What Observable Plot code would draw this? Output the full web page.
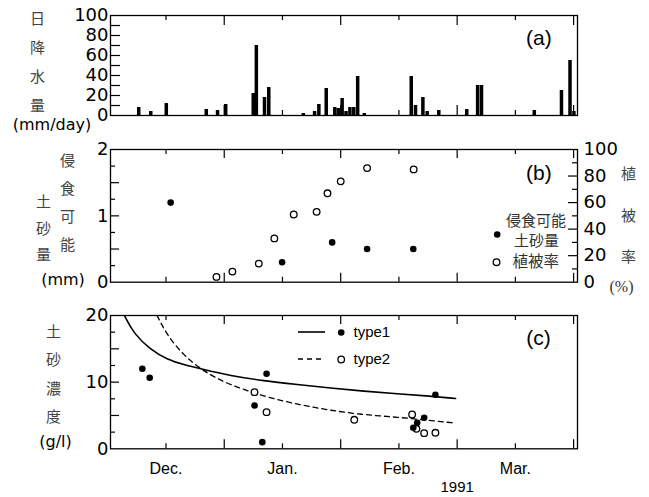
<!DOCTYPE html>
<html><head><meta charset="utf-8">
<script src="https://cdn.jsdelivr.net/npm/d3@7"></script>
<script src="https://cdn.jsdelivr.net/npm/@observablehq/plot@0.6"></script>
<style>body{margin:0;background:#fff} #chart{width:649px;height:497px} #chart svg{display:block}</style>
</head><body><div id="chart"></div>
<script>
// ---------------- data (x = days from Dec. 1, chart convention: 15-day ticks) ----------------
const rainDay = [-6.9, -3.8, 0.2, 10.5, 13.4, 15.5, 22.6, 23.4, 25.5, 26.6, 35.5, 38.4, 39.5, 41.4, 43.6, 44.5, 45.5, 46.5, 47.5, 48.5, 49.5, 51.2, 63.3, 64.4, 66.3, 67.4, 70.4, 77.6, 80.4, 81.4, 95.0, 102.0, 104.2, 105.2];
const rainMm  = [8, 4, 12, 6, 5, 11, 22, 70, 18, 28, 2, 4, 11, 27, 8, 7, 17, 4, 8, 8, 39, 2, 39, 10, 18, 4, 5, 6, 30, 30, 5, 25, 55, 4];

const erodDay = [1.2, 29.9, 42.8, 51.8, 63.7];
const erodMm  = [1.2, 0.3, 0.6, 0.5, 0.5];
const vegDay  = [13.0, 17.1, 23.9, 27.9, 32.9, 38.8, 41.6, 45.0, 51.8, 63.8];
const vegPct  = [4, 8, 14, 33, 51, 53, 67, 76, 86, 85];

const type1Day  = [-6.1, -4.2, 22.8, 24.8, 25.9, 63.7, 64.7, 66.5, 69.4];
const type1Conc = [12.0, 10.65, 6.5, 1.0, 11.25, 3.15, 3.9, 4.65, 8.1];
const type2Day  = [22.8, 25.9, 48.5, 63.4, 64.5, 66.5, 69.4];
const type2Conc = [8.5, 5.5, 4.35, 5.15, 3.0, 2.35, 2.4];

const fit1Day  = [-10.7, -8.3, -4.0, 0.3, 4.6, 8.9, 16.6, 25.2, 33.8, 42.4, 51.0, 59.6, 68.1, 74.6];
const fit1Conc = [20, 17.25, 14.9, 13.4, 12.6, 12.0, 10.95, 10.2, 9.65, 9.1, 8.65, 8.25, 7.9, 7.55];
const fit2Day  = [-2.3, 0.3, 4.6, 8.9, 13.2, 17.5, 26.1, 34.6, 42.4, 51.0, 59.6, 68.1, 74.6];
const fit2Conc = [20, 17.0, 14.0, 12.0, 10.5, 9.4, 7.7, 6.6, 5.75, 5.1, 4.75, 4.25, 3.85];

const monthTicks  = [0, 30, 60, 90];
const monthLabels = ["Dec.", "Jan.", "Feb.", "Mar."];
const yearTick = 75, yearLabel = "1991";
const rainTicks = [0, 20, 40, 60, 80, 100];
const sedTicks  = [0, 1, 2];
const vegTicks  = [0, 20, 40, 60, 80, 100];
const concTicks = [0, 10, 20];

// ---------------- layout ----------------
const W = 649, ML = 110, MR = 72;
const plotW = W - ML - MR;
const xDomain = [-14.3, 106.0];
const NUM = "DejaVu Sans", LAT = "Liberation Sans", CJK = "Noto Sans CJK JP";

const rain = rainDay.map((d, i) => ({day: d, mm: rainMm[i]}));
const erod = erodDay.map((d, i) => ({day: d, v: erodMm[i]}));
const veg  = vegDay.map((d, i) => ({day: d, v: vegPct[i]}));
const t1 = type1Day.map((d, i) => ({day: d, v: type1Conc[i]}));
const t2 = type2Day.map((d, i) => ({day: d, v: type2Conc[i]}));
const f1 = fit1Day.map((d, i) => ({day: d, v: fit1Conc[i]}));
const f2 = fit2Day.map((d, i) => ({day: d, v: fit2Conc[i]}));

const tk = {stroke: "black", strokeWidth: 1.2};
function xFrameTicks(plotH, longLen) {
  const shortT = [0, 30, 60, 90], longT = [15, 45, 75, 105];
  return [
    Plot.tickX(shortT, {x: d => d, insetBottom: plotH - 5, ...tk}),
    Plot.tickX(longT, {x: d => d, insetBottom: plotH - longLen, ...tk}),
    Plot.tickX(shortT, {x: d => d, insetTop: plotH - 5, ...tk}),
    Plot.tickX(longT, {x: d => d, insetTop: plotH - longLen, ...tk})
  ];
}
function yLeftTicks(vals, len) { return Plot.tickY(vals, {y: d => d, insetRight: plotW - len, ...tk}); }
function yRightTicks(vals, len) { return Plot.tickY(vals, {y: d => d, insetLeft: plotW - len, ...tk}); }
function label(txt, o) {
  return Plot.text([txt], {text: d => d, textAnchor: "middle", lineAnchor: "middle", fill: "black", ...o});
}
const frame = Plot.frame({stroke: "black", strokeWidth: 1.3});
const yAxisL = (ticks) => Plot.axisY(ticks, {anchor: "left", tickSize: 0, tickPadding: 2, tickFormat: d => String(d), fontSize: 18, fontFamily: NUM, fill: "black", label: null});

// ---------------- (a) rainfall ----------------
const pa = Plot.plot({
  width: W, height: 135, marginLeft: ML, marginRight: MR, marginTop: 15, marginBottom: 20,
  x: {domain: xDomain, axis: null},
  y: {domain: [0, 100]},
  marks: [
    Plot.rect(rain, {x1: d => d.day - 0.45, x2: d => d.day + 0.45, y1: 0, y2: "mm", fill: "black"}),
    ...xFrameTicks(100, 10),
    yLeftTicks(d3.range(10, 100, 10), 10),
    frame,
    yAxisL(rainTicks),
    label("日\n降\n水\n量", {frameAnchor: "left", dx: -73, dy: -7, fontSize: 15, fontFamily: CJK, fill: "#444", lineHeight: 1.93}),
    label("(mm/day)", {frameAnchor: "bottom-left", dx: -58.5, dy: 9.5, fontSize: 16, fontFamily: NUM}),
    label("(a)", {frameAnchor: "top-left", dx: 428.3, dy: 23, fontSize: 21, fontFamily: LAT})
  ]
});

// ---------------- (b) erodible sediment & vegetation cover ----------------
const pb = Plot.plot({
  width: W, height: 165, marginLeft: ML, marginRight: MR, marginTop: 14, marginBottom: 18.3,
  x: {domain: xDomain, axis: null},
  y: {domain: [0, 2]},
  marks: [
    ...xFrameTicks(132.7, 9),
    yLeftTicks([0.5, 1, 1.5], 9),
    yLeftTicks([0.25, 0.75, 1.25, 1.75], 5),
    yRightTicks([20, 40, 60, 80].map(p => p / 50), 9),
    yRightTicks([10, 30, 50, 70, 90].map(p => p / 50), 5),
    frame,
    yAxisL(sedTicks),
    Plot.axisY(vegTicks.map(p => p / 50), {anchor: "right", tickSize: 0, tickPadding: 6, tickFormat: d => String(Math.round(d * 50)), fontSize: 18, fontFamily: NUM, fill: "black", label: null}),
    Plot.dot(erod, {x: "day", y: "v", r: 3.3, fill: "black"}),
    Plot.dot(veg, {x: "day", y: d => d.v / 50, r: 3.3, fill: "white", stroke: "black", strokeWidth: 1.3}),
    label("侵\n食\n可\n能", {frameAnchor: "left", dx: -43, dy: -16.5, fontSize: 15, fontFamily: CJK, fill: "#444", lineHeight: 1.87}),
    label("土\n砂\n量", {frameAnchor: "left", dx: -67, dy: 9.5, fontSize: 15, fontFamily: CJK, fill: "#444", lineHeight: 1.77}),
    label("(mm)", {frameAnchor: "left", dx: -47.5, dy: 64.15, fontSize: 16, fontFamily: NUM}),
    label("植\n被\n率", {frameAnchor: "right", dx: 51, dy: -8.5, fontSize: 15, fontFamily: CJK, fill: "#444", lineHeight: 2.77}),
    label("(%)", {frameAnchor: "right", dx: 44, dy: 71.35, fontSize: 16, fontFamily: "Liberation Serif", fill: "#333"}),
    label("(b)", {frameAnchor: "top-left", dx: 428.3, dy: 24, fontSize: 21, fontFamily: LAT}),
    Plot.dot([0], {frameAnchor: "top-left", dx: 386.7, dy: 85, r: 3.3, fill: "black"}),
    Plot.dot([0], {frameAnchor: "top-left", dx: 386, dy: 112.7, r: 3.3, fill: "white", stroke: "black", strokeWidth: 1.3}),
    label("侵食可能", {frameAnchor: "top-left", dx: 425.5, dy: 72, fontSize: 15, fontFamily: CJK, fill: "#333"}),
    label("土砂量", {frameAnchor: "top-left", dx: 426, dy: 92, fontSize: 15, fontFamily: CJK, fill: "#333"}),
    label("植被率", {frameAnchor: "top-left", textAnchor: "start", dx: 402, dy: 112.7, fontSize: 15.5, fontFamily: CJK, fill: "#333"})
  ]
});

// ---------------- (c) sediment concentration ----------------
function legendLines(index, scales, values, dims) {
  const g = d3.create("svg:g").attr("stroke", "black").attr("fill", "none");
  g.append("line").attr("x1", 298).attr("x2", 325).attr("y1", 32).attr("y2", 32).attr("stroke-width", 1.6);
  g.append("line").attr("x1", 298).attr("x2", 325).attr("y1", 59).attr("y2", 59).attr("stroke-width", 1.3).attr("stroke-dasharray", "5,4");
  return g.node();
}
const pc = Plot.plot({
  width: W, height: 197, marginLeft: ML, marginRight: MR, marginTop: 15, marginBottom: 48.7,
  x: {domain: xDomain},
  y: {domain: [0, 20]},
  marks: [
    ...xFrameTicks(133.3, 9),
    yLeftTicks([5, 10, 15], 9),
    yLeftTicks([2.5, 7.5, 12.5, 17.5], 5),
    Plot.line(f1, {x: "day", y: "v", curve: "basis", stroke: "black", strokeWidth: 1.6, clip: true}),
    Plot.line(f2, {x: "day", y: "v", curve: "basis", stroke: "black", strokeWidth: 1.3, strokeDasharray: "5,4", clip: true}),
    frame,
    yAxisL(concTicks),
    Plot.axisX(monthTicks, {anchor: "bottom", tickSize: 0, tickPadding: 14, tickFormat: d => monthLabels[monthTicks.indexOf(d)], fontSize: 16, fontFamily: LAT, fill: "black", label: null}),
    Plot.text([yearLabel], {x: [yearTick], frameAnchor: "bottom", dy: 38.4, text: d => d, textAnchor: "middle", lineAnchor: "middle", fontSize: 15, fontFamily: LAT, fill: "black"}),
    Plot.dot(t2, {x: "day", y: "v", r: 3.3, fill: "white", stroke: "black", strokeWidth: 1.3}),
    Plot.dot(t1, {x: "day", y: "v", r: 3.3, fill: "black"}),
    label("土\n砂\n濃\n度", {frameAnchor: "left", dx: -57, dy: -11.65, fontSize: 15, fontFamily: CJK, fill: "#444", lineHeight: 1.87}),
    label("(g/l)", {frameAnchor: "left", dx: -55, dy: 60.05, fontSize: 16, fontFamily: NUM}),
    label("(c)", {frameAnchor: "top-left", dx: 428, dy: 23, fontSize: 21, fontFamily: LAT}),
    legendLines,
    Plot.dot([0], {frameAnchor: "top-left", dx: 230.7, dy: 17, r: 3.3, fill: "black"}),
    Plot.dot([0], {frameAnchor: "top-left", dx: 230.7, dy: 44, r: 3.3, fill: "white", stroke: "black", strokeWidth: 1.3}),
    label("type1", {frameAnchor: "top-left", textAnchor: "start", dx: 243, dy: 17, fontSize: 15, fontFamily: LAT}),
    label("type2", {frameAnchor: "top-left", textAnchor: "start", dx: 243, dy: 44, fontSize: 15, fontFamily: LAT})
  ]
});

const chart = document.getElementById("chart");
chart.append(pa, pb, pc);
</script>
</body></html>
